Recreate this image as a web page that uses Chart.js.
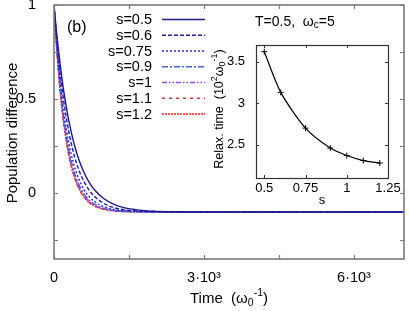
<!DOCTYPE html>
<html><head><meta charset="utf-8">
<script src="https://cdn.jsdelivr.net/npm/chart.js@4"></script>
<style>
html,body{margin:0;padding:0;background:#fff;}
#wrap{position:relative;width:409px;height:311px;overflow:hidden;}
#main{position:absolute;left:0;top:0;}
#inset{position:absolute;left:208px;top:30px;}
</style></head><body>
<div id="wrap"><canvas id="main" width="409" height="311"></canvas><canvas id="inset" width="200" height="178"></canvas></div>
<script>
// ---- data ----
const times = [0,50,100,150,200,300,400,500,600,700,800,1000,1200,1400,1700,2000,2500,3000,7000];
const sLabels = ['s=0.5','s=0.6','s=0.75','s=0.9','s=1','s=1.1','s=1.2'];
const pop_s050 = [1,0.858,0.735,0.627,0.533,0.380,0.264,0.176,0.110,0.059,0.021,-0.030,-0.060,-0.077,-0.090,-0.096,-0.099,-0.100,-0.100];
const pop_s060 = [1,0.837,0.698,0.580,0.479,0.321,0.205,0.122,0.061,0.017,-0.015,-0.055,-0.077,-0.088,-0.095,-0.098,-0.100,-0.100,-0.100];
const pop_s075 = [1,0.814,0.660,0.531,0.424,0.262,0.150,0.073,0.019,-0.018,-0.043,-0.073,-0.087,-0.094,-0.098,-0.099,-0.100,-0.100,-0.100];
const pop_s090 = [1,0.798,0.633,0.498,0.388,0.225,0.116,0.044,-0.004,-0.036,-0.057,-0.081,-0.092,-0.096,-0.099,-0.100,-0.100,-0.100,-0.100];
const pop_s100 = [1,0.791,0.621,0.484,0.373,0.210,0.103,0.033,-0.013,-0.043,-0.062,-0.084,-0.093,-0.097,-0.099,-0.100,-0.100,-0.100,-0.100];
const pop_s110 = [1,0.785,0.612,0.473,0.361,0.199,0.093,0.025,-0.019,-0.048,-0.066,-0.086,-0.094,-0.098,-0.099,-0.100,-0.100,-0.100,-0.100];
const pop_s120 = [1,0.783,0.610,0.470,0.358,0.195,0.090,0.023,-0.021,-0.049,-0.067,-0.086,-0.094,-0.098,-0.099,-0.100,-0.100,-0.100,-0.100];
const xTickValues = [0,1500,3000,4500,6000];
const xTickLabels = ['0','','3·10³','','6·10³'];
const yTickValues = [-0.25,0,0.25,0.5,0.75,1];
const yTickLabels = ['','0','','0.5','','1'];
const insetS = [0.5,0.6,0.75,0.9,1,1.1,1.2];
const insetRelax = [3.62,3.13,2.70,2.46,2.37,2.31,2.28];
const insetXTicks = [0.5,0.75,1,1.25];
const insetXLabels = ['0.5','0.75','1','1.25'];
const insetYTicks = [2.5,3,3.5];
const insetYLabels = ['2.5','3','3.5'];

// ---- styles ----
const seriesValues = [pop_s050,pop_s060,pop_s075,pop_s090,pop_s100,pop_s110,pop_s120];
const seriesColors = ['#1c1c8a','#2020a6','#2a2ad8','#3c64e0','#a040f0','#d03535','#ff1f1f'];
const seriesDashes = [[],[4,2],[2,2],[6,2,2,2],[5,2,1.5,2,1.5,2],[3,4],[2,1]];
const FONT = '"Liberation Sans", Arial, Helvetica, sans-serif';

function font(size){ return size + 'px ' + FONT; }
function richWidth(ctx, parts){ let w=0; parts.forEach(p=>{ctx.font=font(p.size); w+=ctx.measureText(p.t).width;}); return w; }
function drawRich(ctx, parts, x, y, align){
  const w = richWidth(ctx, parts);
  let cx = align==='center' ? x - w/2 : (align==='right' ? x - w : x);
  ctx.textAlign='left'; ctx.textBaseline='middle'; ctx.fillStyle='#000';
  parts.forEach(p=>{ ctx.font=font(p.size); ctx.fillText(p.t, cx, y + (p.dy||0)); cx += ctx.measureText(p.t).width; });
}
function noPad(s){ s.paddingTop=0; s.paddingBottom=0; s.paddingLeft=0; s.paddingRight=0; }

const mainPlugin = {
  id:'mainDecor',
  afterDraw(chart){
    const ctx = chart.ctx, a = chart.chartArea, xs = chart.scales.x, ys = chart.scales.y;
    ctx.save();
    ctx.strokeStyle='#7a7a7a'; ctx.lineWidth=1.2; ctx.setLineDash([]);
    ctx.beginPath();
    xTickValues.forEach(v=>{ const px=Math.round(xs.getPixelForValue(v))+0.5;
      ctx.moveTo(px,a.bottom); ctx.lineTo(px,a.bottom-4); ctx.moveTo(px,a.top); ctx.lineTo(px,a.top+4); });
    yTickValues.forEach(v=>{ const py=Math.round(ys.getPixelForValue(v))+0.5;
      ctx.moveTo(a.left,py); ctx.lineTo(a.left+4,py); ctx.moveTo(a.right,py); ctx.lineTo(a.right-4,py); });
    ctx.stroke();
    ctx.strokeStyle='#7a7a7a'; ctx.lineWidth=1.6;
    ctx.strokeRect(a.left, a.top, a.right-a.left, a.bottom-a.top);
    // legend
    chart.data.datasets.forEach((ds,i)=>{
      const y = 19 + i*15.75;
      ctx.font=font(14.5); ctx.fillStyle='#000'; ctx.textAlign='right'; ctx.textBaseline='middle';
      ctx.fillText(ds.label, 152, y+1);
      ctx.strokeStyle=ds.borderColor; ctx.lineWidth=1.4; ctx.setLineDash(ds.borderDash||[]);
      ctx.beginPath(); ctx.moveTo(162,y+0.5); ctx.lineTo(205,y+0.5); ctx.stroke();
    });
    ctx.setLineDash([]);
    ctx.font=font(16); ctx.fillStyle='#000'; ctx.textAlign='left'; ctx.textBaseline='middle';
    ctx.fillText('(b)', 67, 28);
    drawRich(ctx,[{t:'T=0.5,  ω',size:14},{t:'c',size:10,dy:3},{t:'=5',size:14}], 255, 22, 'left');
    drawRich(ctx,[{t:'Time  (ω',size:15},{t:'0',size:10.5,dy:4},{t:'-1',size:10.5,dy:-6},{t:')',size:15}], 229, 299, 'center');
    ctx.translate(13, 133); ctx.rotate(-Math.PI/2);
    drawRich(ctx,[{t:'Population difference',size:15}], 0, 0, 'center');
    ctx.restore();
  }
};

const mainChart = new Chart(document.getElementById('main'), {
  type:'line',
  data:{ datasets: seriesValues.map((vals,i)=>({
    label:sLabels[i],
    data: times.map((t,j)=>({x:t,y:vals[j]})),
    borderColor:seriesColors[i], borderDash:seriesDashes[i], borderWidth:1.4,
    pointRadius:0, fill:false, cubicInterpolationMode:'monotone'
  }))},
  options:{
    responsive:false, animation:false, devicePixelRatio:1,
    layout:{padding:{top:5,right:5,left:0,bottom:0}},
    plugins:{legend:{display:false}, tooltip:{enabled:false}},
    scales:{
      x:{type:'linear', min:0, max:7000,
        afterBuildTicks:s=>{ s.ticks = xTickValues.map(v=>({value:v})); },
        afterFit:s=>{ s.height = 52; noPad(s); },
        ticks:{callback:(v,i)=>xTickLabels[i], font:{family:FONT,size:14.5}, color:'#000', padding:2, maxRotation:0, autoSkip:false},
        grid:{display:false}, border:{display:false}},
      y:{type:'linear', min:-0.35, max:1,
        afterBuildTicks:s=>{ s.ticks = yTickValues.map(v=>({value:v})); },
        afterFit:s=>{ s.width = 54; noPad(s); },
        ticks:{callback:(v,i)=>yTickLabels[i], font:{family:FONT,size:14.5}, color:'#000', padding:10, autoSkip:false},
        grid:{display:false}, border:{display:false}}
    }
  },
  plugins:[mainPlugin]
});

const insetPlugin = {
  id:'insetDecor',
  afterDraw(chart){
    const ctx = chart.ctx, a = chart.chartArea, xs = chart.scales.x, ys = chart.scales.y;
    ctx.save();
    ctx.strokeStyle='#333'; ctx.lineWidth=1; ctx.setLineDash([]);
    ctx.beginPath();
    insetXTicks.forEach(v=>{ const px=Math.round(xs.getPixelForValue(v))+0.5;
      ctx.moveTo(px,a.bottom); ctx.lineTo(px,a.bottom-3); ctx.moveTo(px,a.top); ctx.lineTo(px,a.top+3); });
    insetYTicks.forEach(v=>{ const py=Math.round(ys.getPixelForValue(v))+0.5;
      ctx.moveTo(a.left,py); ctx.lineTo(a.left+3,py); ctx.moveTo(a.right,py); ctx.lineTo(a.right-3,py); });
    ctx.stroke();
    ctx.lineWidth=1.2;
    ctx.strokeRect(Math.round(a.left)+0.5, Math.round(a.top)+0.5, Math.round(a.right-a.left), Math.round(a.bottom-a.top));
    ctx.font=font(13); ctx.fillStyle='#000'; ctx.textAlign='center'; ctx.textBaseline='middle';
    ctx.fillText('s', 114, 170);
    ctx.translate(12, 79); ctx.rotate(-Math.PI/2);
    drawRich(ctx,[{t:'Relax. time  (10',size:12.5},{t:'2',size:9,dy:-5},{t:'ω',size:12.5},{t:'0',size:9,dy:3},{t:'-1',size:9,dy:-5},{t:')',size:12.5}], 0, 0, 'center');
    ctx.restore();
  }
};

const insetChart = new Chart(document.getElementById('inset'), {
  type:'line',
  data:{ datasets:[{
    label:'Relax. time',
    data: insetS.map((s,i)=>({x:s,y:insetRelax[i]})),
    borderColor:'#000', backgroundColor:'#000', borderWidth:1.2,
    pointStyle:'cross', pointRadius:3, pointBorderWidth:1, tension:0.25, fill:false
  }]},
  options:{
    responsive:false, animation:false, devicePixelRatio:1,
    layout:{padding:{top:15,right:20,left:0,bottom:0}},
    plugins:{legend:{display:false}, tooltip:{enabled:false}},
    scales:{
      x:{type:'linear', min:0.45, max:1.25,
        afterBuildTicks:s=>{ s.ticks = insetXTicks.map(v=>({value:v})); },
        afterFit:s=>{ s.height = 30; noPad(s); },
        ticks:{callback:(v,i)=>insetXLabels[i], font:{family:FONT,size:13,lineHeight:0.4}, color:'#000', padding:0, maxRotation:0, autoSkip:false},
        grid:{display:false}, border:{display:false}},
      y:{type:'linear', min:2.1, max:3.7,
        afterBuildTicks:s=>{ s.ticks = insetYTicks.map(v=>({value:v})); },
        afterFit:s=>{ s.width = 48; noPad(s); },
        ticks:{callback:(v,i)=>insetYLabels[i], font:{family:FONT,size:13}, color:'#000', padding:3, autoSkip:false},
        grid:{display:false}, border:{display:false}}
    }
  },
  plugins:[insetPlugin]
});
</script>
</body></html>
